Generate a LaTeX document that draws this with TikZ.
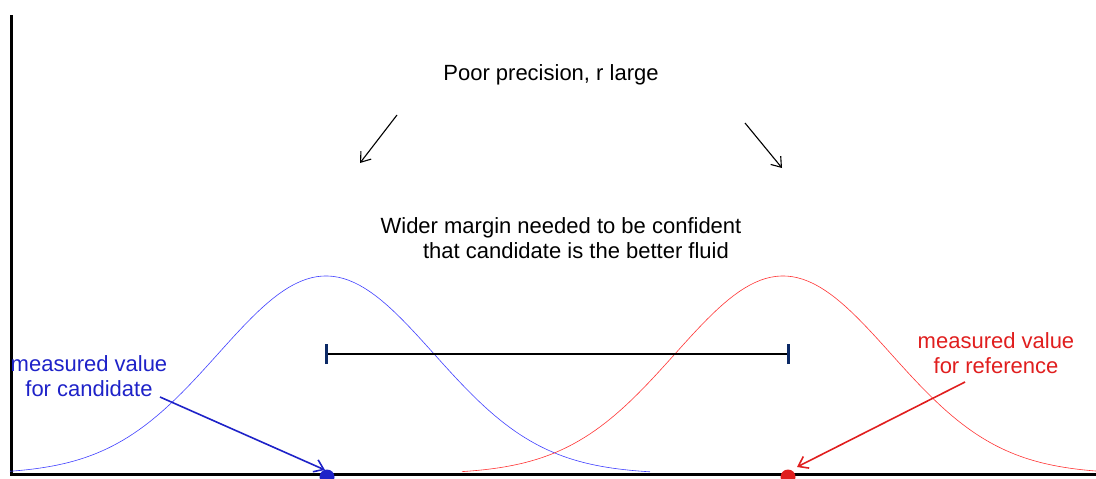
\documentclass[tikz,border=0pt]{standalone}
\usepackage{fontspec}
\setmainfont{Liberation Sans}
\usetikzlibrary{positioning,arrows.meta}
\definecolor{candblue}{HTML}{1E22C8}
\definecolor{refred}{HTML}{E01E1E}
\definecolor{capnavy}{HTML}{0C2A66}

\begin{document}
\begin{tikzpicture}[x=1pt,y=-1pt,
      lbl/.style={align=center,font=\fontsize{22}{25}\selectfont,inner sep=0pt},
      pointer/.style={-{Straight Barb[length=9pt,width=13pt]},line width=1.1pt},
      dot/.style={circle,fill,inner sep=0pt,minimum size=15pt},
      endcap/.style={draw=capnavy,line width=3pt}]
    \useasboundingbox (0,0) rectangle (1096,479);
    % axes
    \coordinate (origin) at (11,474);
    \draw[line width=3pt] (11,15) -- (origin) -- (1096,474);
    % the two spreads
    \draw[blue!75,line width=0.6pt] plot[domain=10:650,samples=120]
      (\x,{474-198*exp(-0.5*((\x-326)/108)^2)});
    \draw[red!80,line width=0.6pt] plot[domain=462:1096,samples=120]
      (\x,{474-198*exp(-0.5*((\x-783)/108)^2)});
    % measured values
    \node[dot,fill=candblue] (cand) at (327,477) {};
    \node[dot,fill=refred] (ref) at (788,477) {};
    % margin bar
    \coordinate (barL) at (326,354);
    \coordinate (barR) at (788,354);
    \draw[line width=2.5pt] (barL) -- (barR);
    \draw[endcap] ([yshift=-10pt]barL) -- ([yshift=10pt]barL);
    \draw[endcap] ([yshift=-10pt]barR) -- ([yshift=10pt]barR);
    % texts
    \node[lbl] (poor) at (551,75) {Poor precision, r large};
    \node[lbl] (wider) at (561,238) {Wider margin needed to be confident\\ \hspace*{30pt}that candidate is the better fluid};
    \node[lbl,text=candblue] (candlbl) at (89,376) {measured value\\for candidate};
    \node[lbl,text=refred] (reflbl) at (996,353) {measured value\\for reference};
    % arrows
    \coordinate (pl1) at (397,115); \coordinate (pl2) at (360,163);
    \coordinate (pr1) at (745,123); \coordinate (pr2) at (782,168);
    \draw[pointer] (pl1) -- (pl2);
    \draw[pointer] (pr1) -- (pr2);
    \coordinate (ca) at (160,397);
    \coordinate (ra) at (965,382);
    \draw[pointer,candblue,line width=1.6pt] (ca) -- ([xshift=-2pt,yshift=7pt]cand.center);
    \draw[pointer,refred,line width=1.6pt] (ra) -- ([xshift=9pt,yshift=10pt]ref.center);
\end{tikzpicture}
\end{document}
